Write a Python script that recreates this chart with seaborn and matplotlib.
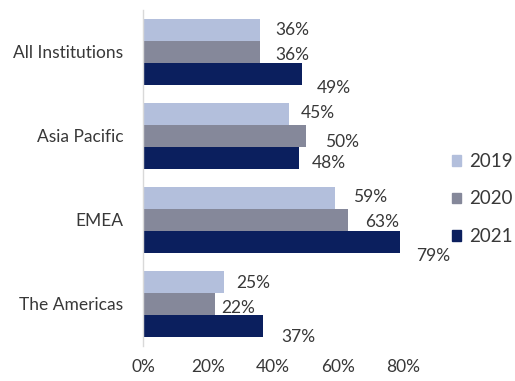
import matplotlib
matplotlib.use("Agg")
import matplotlib.pyplot as plt
import seaborn as sns
import pandas as pd

regions = ["All Institutions", "Asia Pacific", "EMEA", "The Americas"]
years = ["2019", "2020", "2021"]
values_2019 = [36, 45, 59, 25]
values_2020 = [36, 50, 63, 22]
values_2021 = [49, 48, 79, 37]
x_ticks = [0, 20, 40, 60, 80]
x_tick_labels = ["0%", "20%", "40%", "60%", "80%"]

colors = ["#b3bfdc", "#85889a", "#0b1f5e"]
text_color = "#383838"

# hand-placed label nudges (pixels right, pixels down) per year, per region
label_nudge = {
    "2019": [(15, 0), (12, -1), (18, -1), (12, 1)],
    "2020": [(15, 3), (20, 6), (17, 2), (7, 4)],
    "2021": [(15, 14), (13, 5), (16, 14), (18, 11)],
}

sns.set_theme(style="white")
plt.rcParams["font.family"] = ["Lato", "DejaVu Sans"]

rows = []
for year, vals in zip(years, [values_2019, values_2020, values_2021]):
    for region, v in zip(regions, vals):
        rows.append({"region": region, "year": year, "value": v})
df = pd.DataFrame(rows)

fig = plt.figure(figsize=(5.15, 3.81), dpi=100)
ax = fig.add_axes([143 / 515, 1 - 346 / 381, 260 / 515, 336 / 381])

sns.barplot(data=df, y="region", x="value", hue="year", order=regions,
            hue_order=years, palette=colors, orient="h", width=0.78,
            saturation=1, linewidth=0, ax=ax, legend=False)

for container, year in zip(ax.containers, years):
    for bar, (dx, dy) in zip(container, label_nudge[year]):
        w = bar.get_width()
        yc = bar.get_y() + bar.get_height() / 2
        ax.annotate(f"{w:.0f}%", xy=(w, yc), xytext=(dx, -dy),
                    textcoords="offset pixels", ha="left", va="center",
                    fontsize=12.5, color=text_color, annotation_clip=False)

ax.set_xlim(0, 80)
ax.set_ylim(3.5, -0.5)
ax.set_xticks(x_ticks)
ax.set_xticklabels(x_tick_labels)
ax.set_xlabel("")
ax.set_ylabel("")
ax.tick_params(axis="x", length=0, pad=9, labelsize=12.5, labelcolor=text_color)
ax.tick_params(axis="y", length=0, pad=14, labelsize=12.5, labelcolor=text_color)
for side in ["top", "right", "bottom"]:
    ax.spines[side].set_visible(False)
ax.spines["left"].set_color("#d9d9d9")
ax.spines["left"].set_linewidth(1)

handles = [plt.Rectangle((0, 0), 1, 1, color=c) for c in colors]
fig.legend(handles, years, loc="center left", bbox_to_anchor=(452 / 515, 1 - 199 / 381),
           frameon=False, fontsize=13.5, handlelength=0.5, handleheight=0.5,
           handletextpad=0.4, labelspacing=1.1, labelcolor=text_color,
           borderaxespad=0, borderpad=0)

fig.savefig("out.png", dpi=100)
